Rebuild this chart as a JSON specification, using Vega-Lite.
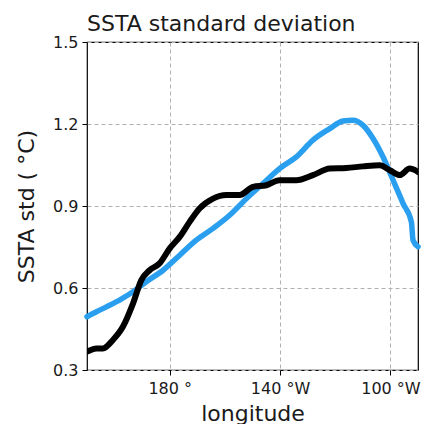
{
  "$schema": "https://vega.github.io/schema/vega-lite/v6.json",
  "autosize": "none",
  "width": 331,
  "height": 328,
  "padding": {"left": 87, "top": 42, "right": 6, "bottom": 54},
  "background": "white",
  "title": {
    "text": "SSTA standard deviation",
    "anchor": "start",
    "frame": "group",
    "baseline": "alphabetic",
    "offset": -19,
    "font": "DejaVu Sans",
    "fontSize": 22,
    "fontWeight": "normal",
    "color": "#1a1a1a"
  },
  "data": {"values": [
    {"series": "model", "lon": 150, "std": 0.495},
    {"series": "model", "lon": 153.4, "std": 0.513},
    {"series": "model", "lon": 157.0, "std": 0.531},
    {"series": "model", "lon": 161.8, "std": 0.556},
    {"series": "model", "lon": 166.7, "std": 0.586},
    {"series": "model", "lon": 171.5, "std": 0.623},
    {"series": "model", "lon": 177.6, "std": 0.665},
    {"series": "model", "lon": 183.6, "std": 0.720},
    {"series": "model", "lon": 189.6, "std": 0.775},
    {"series": "model", "lon": 195.7, "std": 0.818},
    {"series": "model", "lon": 201.7, "std": 0.866},
    {"series": "model", "lon": 207.8, "std": 0.927},
    {"series": "model", "lon": 213.8, "std": 0.982},
    {"series": "model", "lon": 219.8, "std": 1.037},
    {"series": "model", "lon": 225.9, "std": 1.080},
    {"series": "model", "lon": 231.9, "std": 1.141},
    {"series": "model", "lon": 238.0, "std": 1.183},
    {"series": "model", "lon": 242.8, "std": 1.211},
    {"series": "model", "lon": 246.4, "std": 1.214},
    {"series": "model", "lon": 250.1, "std": 1.195},
    {"series": "model", "lon": 253.7, "std": 1.147},
    {"series": "model", "lon": 257.3, "std": 1.080},
    {"series": "model", "lon": 261.0, "std": 0.994},
    {"series": "model", "lon": 264.6, "std": 0.909},
    {"series": "model", "lon": 267.6, "std": 0.842},
    {"series": "model", "lon": 268.2, "std": 0.775},
    {"series": "model", "lon": 270, "std": 0.751},
    {"series": "obs", "lon": 150, "std": 0.367},
    {"series": "obs", "lon": 153.4, "std": 0.379},
    {"series": "obs", "lon": 155.8, "std": 0.379},
    {"series": "obs", "lon": 159.4, "std": 0.410},
    {"series": "obs", "lon": 163.0, "std": 0.458},
    {"series": "obs", "lon": 166.7, "std": 0.544},
    {"series": "obs", "lon": 169.7, "std": 0.629},
    {"series": "obs", "lon": 172.7, "std": 0.665},
    {"series": "obs", "lon": 176.3, "std": 0.690},
    {"series": "obs", "lon": 180.0, "std": 0.745},
    {"series": "obs", "lon": 183.6, "std": 0.787},
    {"series": "obs", "lon": 187.2, "std": 0.842},
    {"series": "obs", "lon": 190.8, "std": 0.891},
    {"series": "obs", "lon": 195.7, "std": 0.927},
    {"series": "obs", "lon": 200.5, "std": 0.940},
    {"series": "obs", "lon": 205.3, "std": 0.940},
    {"series": "obs", "lon": 210.2, "std": 0.970},
    {"series": "obs", "lon": 215.0, "std": 0.976},
    {"series": "obs", "lon": 219.8, "std": 0.994},
    {"series": "obs", "lon": 225.9, "std": 0.994},
    {"series": "obs", "lon": 231.9, "std": 1.013},
    {"series": "obs", "lon": 238.0, "std": 1.037},
    {"series": "obs", "lon": 244.0, "std": 1.039},
    {"series": "obs", "lon": 250.1, "std": 1.045},
    {"series": "obs", "lon": 256.1, "std": 1.049},
    {"series": "obs", "lon": 259.8, "std": 1.031},
    {"series": "obs", "lon": 263.4, "std": 1.013},
    {"series": "obs", "lon": 267.0, "std": 1.037},
    {"series": "obs", "lon": 270, "std": 1.025}
  ]},
  "encoding": {
    "x": {
      "field": "lon", "type": "quantitative",
      "scale": {"domain": [150, 270], "nice": false, "zero": false},
      "axis": {
        "title": "longitude",
        "values": [180, 220, 260],
        "labelExpr": "datum.value == 180 ? '180 °' : (360 - datum.value) + ' °W'",
        "titlePadding": 7,
        "labelPadding": 5
      }
    },
    "y": {
      "field": "std", "type": "quantitative",
      "scale": {"domain": [0.3, 1.5], "nice": false, "zero": false},
      "axis": {
        "title": "SSTA std ( °C)",
        "values": [0.3, 0.6, 0.9, 1.2, 1.5],
        "format": ".1f",
        "titlePadding": 14,
        "labelPadding": 4
      }
    }
  },
  "layer": [
    {
      "transform": [{"filter": "datum.series == 'model'"}],
      "mark": {"type": "line", "color": "#2a9ff0", "strokeWidth": 5.5, "interpolate": "monotone", "strokeCap": "round"}
    },
    {
      "transform": [{"filter": "datum.series == 'obs'"}],
      "mark": {"type": "line", "color": "#000000", "strokeWidth": 6, "interpolate": "monotone", "strokeCap": "round", "clip": true}
    }
  ],
  "config": {
    "font": "DejaVu Sans",
    "view": {"stroke": "#000000", "strokeWidth": 1.2},
    "axis": {
      "domain": false,
      "grid": true,
      "gridColor": "#b0b0b0",
      "gridDash": [4, 3],
      "gridWidth": 1,
      "tickColor": "#000000",
      "tickSize": 5,
      "tickWidth": 1,
      "labelFont": "DejaVu Sans",
      "labelFontSize": 16,
      "labelColor": "#1a1a1a",
      "titleFont": "DejaVu Sans",
      "titleFontSize": 22,
      "titleFontWeight": "normal",
      "titleColor": "#1a1a1a"
    }
  }
}
